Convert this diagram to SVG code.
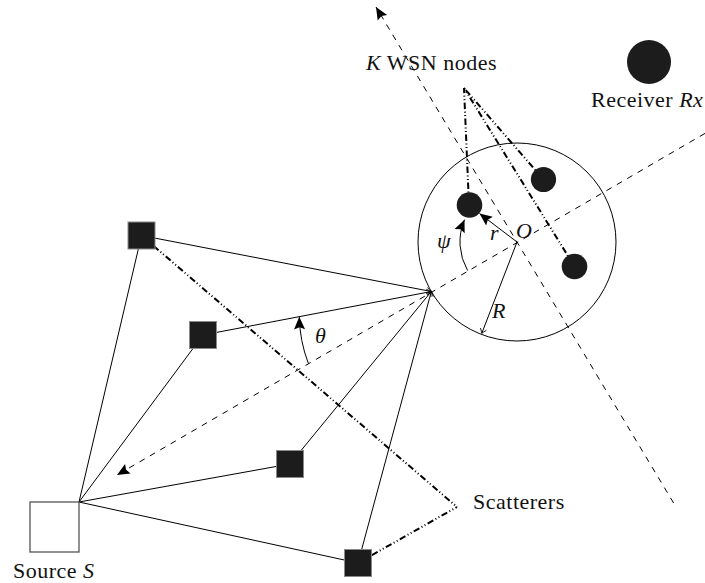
<svg xmlns="http://www.w3.org/2000/svg" width="705" height="583" viewBox="0 0 705 583">
<style>
  .lbl { font-family: "Liberation Serif", "Times New Roman", serif; font-size: 22px; fill: #111; letter-spacing: 0.5px; }
  .it { font-style: italic; }
  .solid { stroke: #000; stroke-width: 1; fill: none; }
  .dash { stroke: #000; stroke-width: 1; fill: none; stroke-dasharray: 6 6; }
  .ddot { stroke: #000; stroke-width: 2; fill: none; stroke-dasharray: 6.5 2.5 1 2.5 1 2.5; }
  .scat { fill: #1c1c1c; stroke: #8a8a8a; stroke-width: 1; }
  .wsn { fill: #1c1c1c; }
</style>
<defs>
  <marker id="tri" viewBox="-14 -7 15 14" refX="0" refY="0" markerWidth="15" markerHeight="14" markerUnits="userSpaceOnUse" orient="auto">
    <path d="M0,0 L-12.5,-5.5 L-10.5,0 L-12.5,5.5 Z" fill="#000"/>
  </marker>
  <marker id="open" viewBox="-6 -5 7 10" refX="0" refY="0" markerWidth="7" markerHeight="10" markerUnits="userSpaceOnUse" orient="auto">
    <path d="M-4.5,-3.2 Q-1.6,-0.9 0,0 Q-1.6,0.9 -4.5,3.2" fill="none" stroke="#000" stroke-width="0.8"/>
  </marker>
</defs>

<g id="connectors">
  <!-- axis lines -->
  <path class="dash" d="M705,133.4 L117,475" marker-end="url(#tri)"/>
  <path class="dash" d="M673.6,503 L376,7" marker-end="url(#tri)"/>
  <!-- source to scatterers -->
  <path class="solid" d="M79,502 L141.5,235.5" marker-end="url(#open)"/>
  <path class="solid" d="M79,502 L203,335" marker-end="url(#open)"/>
  <path class="solid" d="M79,502 L290,464" marker-end="url(#open)"/>
  <path class="solid" d="M79,502 L358,563" marker-end="url(#open)"/>
  <!-- scatterers to point on circle -->
  <path class="solid" d="M141.5,235.5 L431.3,291.5" marker-end="url(#open)"/>
  <path class="solid" d="M203,335 L431.3,291.5" marker-end="url(#open)"/>
  <path class="solid" d="M290,464 L431.3,291.5" marker-end="url(#open)"/>
  <path class="solid" d="M358,563 L431.3,291.5" marker-end="url(#open)"/>
  <!-- label pointers -->
  <path class="ddot" d="M141.5,235.5 L457,507"/>
  <path class="ddot" d="M358,563 L457,507"/>
  <path class="ddot" d="M469,205 L464,88"/>
  <path class="ddot" d="M543.5,179.5 L464,88"/>
  <path class="ddot" d="M574.5,266.5 L464,88"/>
  <!-- r and R -->
  <path class="solid" d="M517,242 L479.5,213.5" marker-end="url(#tri)"/>
  <path class="solid" d="M517,242 L481.8,333.3" marker-end="url(#open)"/>
  <!-- angle arcs -->
  <path class="solid" d="M308.3,363.3 A138,138 0 0 1 299.3,316.8" marker-end="url(#tri)"/>
  <path class="solid" d="M467.6,270.5 A57,57 0 0 1 464.5,219.7" marker-end="url(#tri)"/>
</g>

<g id="region">
  <circle cx="517" cy="242" r="99" fill="none" stroke="#000" stroke-width="1"/>
</g>

<g id="source">
  <rect x="30" y="502" width="49" height="50" fill="#fff" stroke="#555" stroke-width="1.3"/>
  <text class="lbl" x="13" y="578">Source <tspan class="it">S</tspan></text>
</g>

<g id="scatterer1"><rect class="scat" x="128" y="222" width="27" height="27"/></g>
<g id="scatterer2"><rect class="scat" x="189.5" y="321.5" width="27" height="27"/></g>
<g id="scatterer3"><rect class="scat" x="276.5" y="450.5" width="27" height="27"/></g>
<g id="scatterer4"><rect class="scat" x="344.5" y="549.5" width="27" height="27"/></g>

<g id="wsn1"><circle class="wsn" cx="469.5" cy="205" r="12.8"/></g>
<g id="wsn2"><circle class="wsn" cx="543.5" cy="179.5" r="12.6"/></g>
<g id="wsn3"><circle class="wsn" cx="574.5" cy="266.5" r="12.8"/></g>

<g id="receiver">
  <circle class="wsn" cx="649" cy="62" r="22"/>
  <text class="lbl" x="591" y="107">Receiver <tspan class="it">Rx</tspan></text>
</g>

<g id="labels">
  <text class="lbl" x="366" y="70"><tspan class="it">K</tspan> WSN nodes</text>
  <text class="lbl" x="473" y="509">Scatterers</text>
  <text class="lbl it" x="315" y="343">θ</text>
  <text class="lbl it" x="437" y="248">ψ</text>
  <text class="lbl it" x="490" y="240">r</text>
  <text class="lbl it" x="516" y="238">O</text>
  <text class="lbl it" x="492" y="318">R</text>
</g>
</svg>
